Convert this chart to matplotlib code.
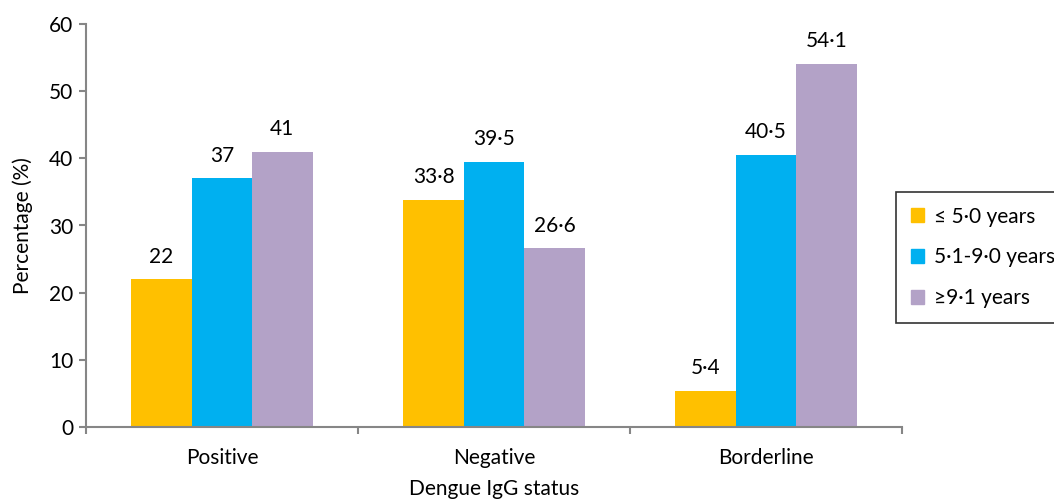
import numpy as np
import matplotlib.pyplot as plt
from matplotlib.patches import Patch

kategorien = ['Positive', 'Negative', 'Borderline']
serien = ['\u2264 5\u00b70 years', '5\u00b71-9\u00b70 years', '\u22659\u00b71 years']
werte_bis5 = [22, 33.8, 5.4]
werte_5bis9 = [37, 39.5, 40.5]
werte_ab9 = [41, 26.6, 54.1]
beschriftung_bis5 = ['22', '33\u00b78', '5\u00b74']
beschriftung_5bis9 = ['37', '39\u00b75', '40\u00b75']
beschriftung_ab9 = ['41', '26\u00b76', '54\u00b71']

farben = ['#FFC000', '#00B0F0', '#B3A2C7']
grau = '#868686'
schrift = 15

plt.rcParams['font.family'] = ['Lato', 'DejaVu Sans']

fig = plt.figure(figsize=(10.54, 5.01), dpi=100)
ax = fig.add_axes([86 / 1054, 74 / 501, 816 / 1054, 403 / 501])

x = np.arange(len(kategorien))
breite = 0.222
alle_werte = [werte_bis5, werte_5bis9, werte_ab9]
alle_texte = [beschriftung_bis5, beschriftung_5bis9, beschriftung_ab9]
for i in range(3):
    pos = x + (i - 1) * breite
    ax.bar(pos, alle_werte[i], width=breite, color=farben[i], label=serien[i])
    for p, w, t in zip(pos, alle_werte[i], alle_texte[i]):
        ax.annotate(t, (p, w), xytext=(0, 9), textcoords='offset points',
                    ha='center', va='bottom', fontsize=schrift)

ax.set_xlim(-0.5, 2.5)
ax.set_ylim(0, 60)
ax.set_yticks(range(0, 61, 10))
ax.set_xticks(x)
ax.set_xticks([-0.5, 0.5, 1.5, 2.5], minor=True)
ax.set_xticklabels(kategorien, fontsize=schrift)
ax.tick_params(axis='x', which='major', length=0, pad=15)
ax.tick_params(axis='x', which='minor', length=5, color=grau, width=1.5)
ax.tick_params(axis='y', length=5, color=grau, width=1.5, labelsize=schrift, pad=4)

for s in ['top', 'right']:
    ax.spines[s].set_visible(False)
for s in ['left', 'bottom']:
    ax.spines[s].set_color(grau)
    ax.spines[s].set_linewidth(1.5)

ax.set_ylabel('Percentage (%)', fontsize=schrift, labelpad=12)
ax.set_xlabel('Dengue IgG status', fontsize=schrift, labelpad=8)

handles = [Patch(color=c) for c in farben]
leg = fig.legend(handles, serien, loc='upper left',
                 bbox_to_anchor=(896 / 1054, 1 - 192 / 501), fontsize=schrift,
                 frameon=True, fancybox=False, edgecolor='black',
                 handlelength=0.65, handleheight=0.65, handletextpad=0.45,
                 labelspacing=1.0, borderpad=0.7, borderaxespad=0)
leg.get_frame().set_linewidth(1.2)

fig.savefig('out.png', dpi=100)
